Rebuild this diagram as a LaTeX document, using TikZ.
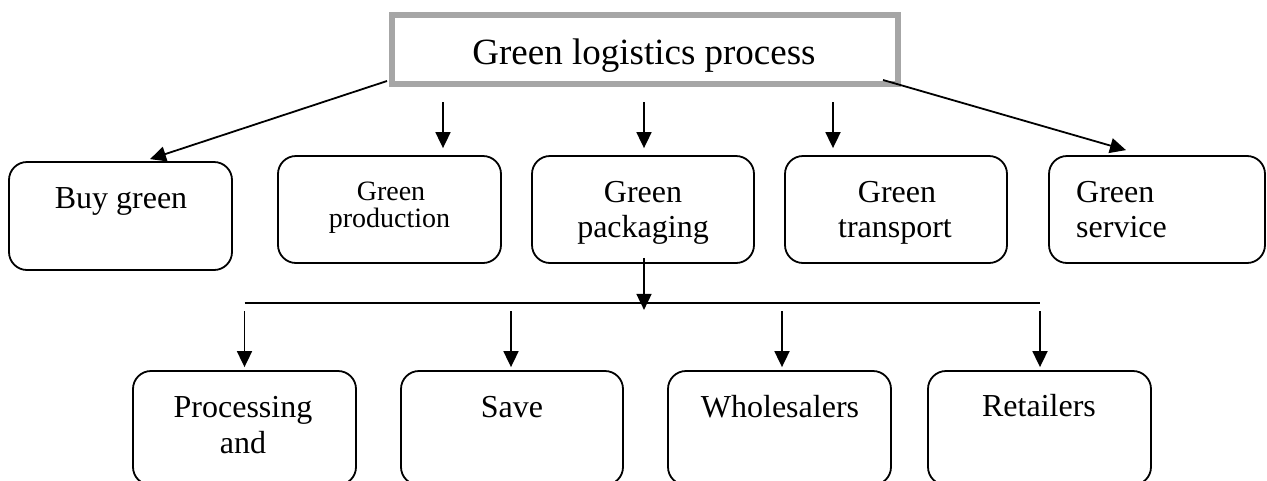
\documentclass[tikz,border=0pt]{standalone}
\usepackage{fontspec}
\setmainfont{Liberation Serif}
\usetikzlibrary{arrows.meta,calc}
\begin{document}
\begin{tikzpicture}[x=1pt,y=-1pt,
  box/.style={draw=black,line width=1.8pt,rounded corners=18pt,inner sep=0pt,minimum height=107pt},
  titlebox/.style={draw=black!35,line width=6pt,inner sep=0pt,minimum width=506pt,minimum height=69pt},
  lbl/.style={inner sep=0pt,anchor=base,font=\fontsize{32}{36}\selectfont},
  lbls/.style={inner sep=0pt,anchor=base,font=\fontsize{28}{31}\selectfont},
  arr/.style={line width=1.8pt,-{Triangle[width=15pt,length=16pt]}},
  conn/.style={line width=1.8pt}]
\useasboundingbox (0,0) rectangle (1267,480);
\begin{scope}
\clip (0,0) rectangle (1267,480);
% title
\node[titlebox] (title) at (645,49.5) {};
\node[inner sep=0pt,anchor=base,font=\fontsize{37}{42}\selectfont] (titletxt) at (644,64) {Green logistics process};
% top row
\node[box,minimum width=223pt,minimum height=108pt] (buy) at (120.5,216) {};
\node[box,minimum width=223pt] (prod) at (389.5,209.5) {};
\node[box,minimum width=222pt] (pack) at (643,209.5) {};
\node[box,minimum width=222pt] (trans) at (896,209.5) {};
\node[box,minimum width=216pt] (serv) at (1157,209.5) {};
\node[lbl] (buyt) at (121,208) {Buy green};
\node[lbls] (prodt1) at (391,200) {Green};
\node[lbls] (prodt2) at (389.5,227) {production};
\node[lbl] (packt1) at (643,202) {Green};
\node[lbl] (packt2) at (643,237) {packaging};
\node[lbl] (transt1) at (897,202) {Green};
\node[lbl] (transt2) at (895,237) {transport};
\node[lbl,anchor=base west] (servt1) at (1076,202) {Green};
\node[lbl,anchor=base west] (servt2) at (1076,237) {service};
% bottom row
\node[box,minimum width=223pt,minimum height=114pt] (proc) at (244.5,428) {};
\node[box,minimum width=222pt,minimum height=114pt] (save) at (512,428) {};
\node[box,minimum width=223pt,minimum height=114pt] (whole) at (779.5,428) {};
\node[box,minimum width=223pt,minimum height=114pt] (ret) at (1039.5,428) {};
\node[lbl] (proct1) at (243,417) {Processing};
\node[lbl] (proct2) at (243,453) {and};
\node[lbl] (savet) at (512,417) {Save};
\node[lbl] (wholet) at (780,417) {Wholesalers};
\node[lbl] (rett) at (1039,416) {Retailers};
\end{scope}
% connectors from title
\draw[arr] ($(title.south west)+(-2,-6)$) -- ($(buy.north)+(29.5,-2)$);
\draw[arr] ($(title.south east)+(-18,-7)$) -- ($(serv.north)+(-31,-5)$);
\draw[arr] ($(title.south -| prod.north)+(53.5,15)$) -- ($(prod.north)+(53.5,-7)$);
\draw[arr] ($(title.south -| pack.north)+(1,15)$) -- ($(pack.north)+(1,-7)$);
\draw[arr] ($(title.south -| trans.north)+(-63,15)$) -- ($(trans.north)+(-63,-7)$);
% from packaging to bus
\draw[arr] ($(pack.south)+(1,-6)$) -- ($(pack.south)+(1,46)$);
\draw[conn] ($(proc.north)+(0,-67)$) -- ($(ret.north)+(0,-67)$);
% bus to bottom boxes
\draw[arr] ($(proc.north)+(0,-59)$) -- ($(proc.north)+(0,-3)$);
\draw[arr] ($(save.north)+(-1,-59)$) -- ($(save.north)+(-1,-3)$);
\draw[arr] ($(whole.north)+(2.5,-59)$) -- ($(whole.north)+(2.5,-3)$);
\draw[arr] ($(ret.north)+(0.5,-59)$) -- ($(ret.north)+(0.5,-3)$);
\end{tikzpicture}
\end{document}
